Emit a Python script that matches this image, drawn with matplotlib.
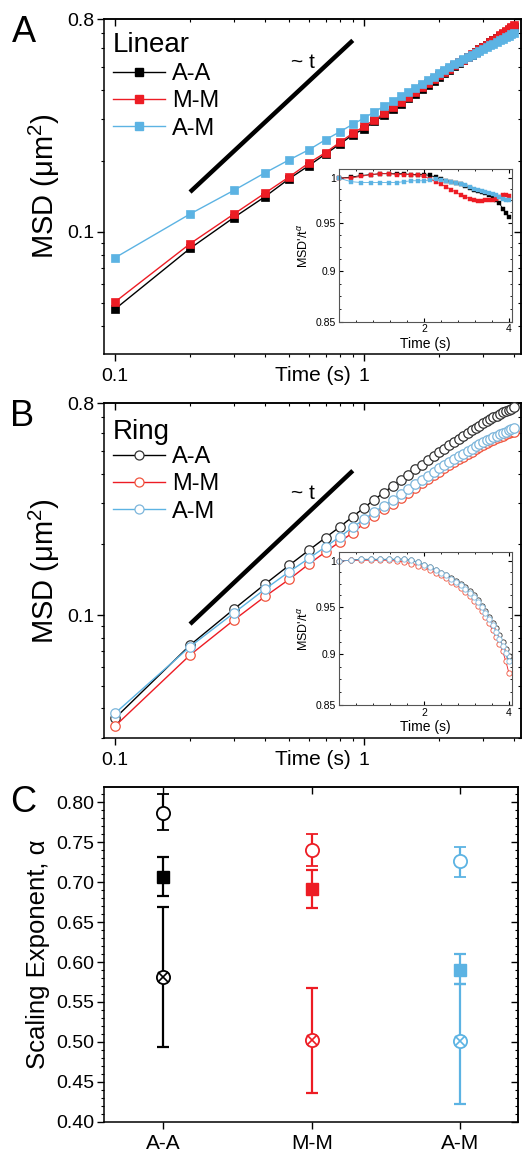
import matplotlib
matplotlib.use("Agg")
import matplotlib.pyplot as plt
from matplotlib.ticker import FixedLocator, NullFormatter, FixedFormatter
from matplotlib.lines import Line2D

plt.rcParams['font.family'] = ['Liberation Sans', 'DejaVu Sans']
plt.rcParams['mathtext.fontset'] = 'custom'
plt.rcParams['mathtext.rm'] = 'Liberation Sans'
plt.rcParams['mathtext.it'] = 'Liberation Sans:italic'
plt.rcParams['axes.linewidth'] = 1.1

# ---------------- data ----------------
time_s = [0.1, 0.2, 0.3, 0.4, 0.5, 0.6, 0.7, 0.8, 0.9, 1.0,
          1.1, 1.2, 1.3, 1.4, 1.5, 1.6, 1.7, 1.8, 1.9, 2.0,
          2.1, 2.2, 2.3, 2.4, 2.5, 2.6, 2.7, 2.8, 2.9, 3.0,
          3.1, 3.2, 3.3, 3.4, 3.5, 3.6, 3.7, 3.8, 3.9, 4.0]
series_names = ["A-A", "M-M", "A-M"]

# Panel A (Linear) MSD
lin_AA = [0.047, 0.085, 0.115, 0.141, 0.168, 0.191, 0.214, 0.236, 0.258, 0.274,
          0.294, 0.313, 0.332, 0.350, 0.368, 0.386, 0.404, 0.421, 0.438, 0.455,
          0.471, 0.487, 0.503, 0.519, 0.535, 0.550, 0.565, 0.579, 0.594, 0.608,
          0.622, 0.636, 0.650, 0.663, 0.677, 0.691, 0.704, 0.717, 0.730, 0.743]
lin_MM = [0.0504, 0.089, 0.119, 0.146, 0.171, 0.196, 0.217, 0.240, 0.262, 0.280,
          0.299, 0.318, 0.337, 0.355, 0.374, 0.392, 0.410, 0.427, 0.444, 0.461,
          0.477, 0.493, 0.508, 0.523, 0.538, 0.552, 0.566, 0.580, 0.594, 0.608,
          0.622, 0.637, 0.651, 0.666, 0.681, 0.696, 0.711, 0.726, 0.741, 0.755]
lin_AM = [0.0776, 0.119, 0.150, 0.178, 0.202, 0.223, 0.246, 0.266, 0.286, 0.304,
          0.323, 0.341, 0.359, 0.376, 0.392, 0.409, 0.425, 0.440, 0.455, 0.471,
          0.485, 0.500, 0.514, 0.528, 0.541, 0.553, 0.564, 0.575, 0.586, 0.597,
          0.608, 0.618, 0.628, 0.639, 0.649, 0.659, 0.669, 0.678, 0.688, 0.697]

# Panel B (Ring) MSD
ring_AA = [0.0363, 0.0744, 0.106, 0.1355, 0.163, 0.189, 0.214, 0.238, 0.263, 0.287,
           0.311, 0.333, 0.355, 0.376, 0.397, 0.418, 0.438, 0.458, 0.476, 0.495,
           0.512, 0.530, 0.547, 0.564, 0.581, 0.597, 0.613, 0.628, 0.643, 0.657,
           0.671, 0.683, 0.696, 0.708, 0.719, 0.731, 0.741, 0.751, 0.760, 0.769]
ring_MM = [0.0336, 0.0675, 0.0952, 0.120, 0.142, 0.165, 0.186, 0.2055, 0.2245, 0.246,
           0.264, 0.282, 0.299, 0.316, 0.332, 0.348, 0.364, 0.379, 0.394, 0.408,
           0.422, 0.435, 0.448, 0.461, 0.474, 0.486, 0.498, 0.509, 0.520, 0.530,
           0.540, 0.550, 0.559, 0.567, 0.575, 0.583, 0.590, 0.597, 0.601, 0.605]
ring_AM = [0.0381, 0.0733, 0.102, 0.129, 0.153, 0.1745, 0.1955, 0.216, 0.2367, 0.256,
           0.275, 0.293, 0.310, 0.327, 0.344, 0.361, 0.377, 0.393, 0.408, 0.422,
           0.436, 0.449, 0.463, 0.476, 0.488, 0.501, 0.512, 0.524, 0.535, 0.546,
           0.556, 0.565, 0.574, 0.583, 0.591, 0.599, 0.606, 0.613, 0.620, 0.625]

# Insets: MSD'/t^alpha for t = 1.0 ... 4.0
inset_time = time_s[9:]
insA_AA = [1.000, 1.001, 1.003, 1.004, 1.005, 1.005, 1.005, 1.005, 1.004, 1.004,
           1.004, 1.003, 1.001, 0.999, 0.997, 0.996, 0.994, 0.993, 0.991, 0.989,
           0.987, 0.986, 0.984, 0.983, 0.981, 0.979, 0.976, 0.972, 0.966, 0.961, 0.957]
insA_MM = [1.000, 1.000, 1.002, 1.004, 1.005, 1.005, 1.004, 1.004, 1.004, 1.003,
           1.002, 0.999, 0.996, 0.993, 0.990, 0.987, 0.984, 0.981, 0.979, 0.977,
           0.975, 0.974, 0.974, 0.975, 0.976, 0.976, 0.977, 0.979, 0.981, 0.981, 0.980]
insA_AM = [1.000, 0.996, 0.995, 0.995, 0.995, 0.995, 0.995, 0.996, 0.997, 0.997,
           0.997, 0.998, 0.999, 0.998, 0.997, 0.996, 0.994, 0.993, 0.992, 0.990,
           0.988, 0.987, 0.986, 0.984, 0.983, 0.982, 0.981, 0.979, 0.977, 0.976, 0.976]
insB_AA = [1.000, 1.001, 1.002, 1.002, 1.002, 1.002, 1.002, 1.002, 1.001, 0.999,
           0.996, 0.993, 0.990, 0.987, 0.984, 0.981, 0.978, 0.975, 0.971, 0.967,
           0.962, 0.957, 0.951, 0.945, 0.939, 0.933, 0.927, 0.920, 0.913, 0.906, 0.898]
insB_MM = [1.000, 1.001, 1.001, 1.001, 1.001, 1.001, 1.000, 0.999, 0.997, 0.995,
           0.993, 0.990, 0.987, 0.984, 0.981, 0.977, 0.974, 0.970, 0.966, 0.961,
           0.956, 0.951, 0.945, 0.939, 0.932, 0.925, 0.918, 0.911, 0.903, 0.893, 0.881]
insB_AM = [1.000, 1.001, 1.002, 1.002, 1.002, 1.002, 1.002, 1.002, 1.001, 0.999,
           0.996, 0.993, 0.990, 0.987, 0.984, 0.980, 0.977, 0.973, 0.969, 0.965,
           0.960, 0.955, 0.949, 0.943, 0.937, 0.930, 0.923, 0.916, 0.909, 0.901, 0.893]

# Guide line "~ t"
guide_t = [0.2, 0.9]
guideA = [0.1475, 0.649]
guideB = [0.0915, 0.4126]

# Panel C: scaling exponents (value, lower error, upper error)
groups = ["A-A", "M-M", "A-M"]
ring_alpha = [0.787, 0.740, 0.726]
ring_lo = [0.022, 0.020, 0.020]
ring_hi = [0.023, 0.020, 0.018]
lin_alpha = [0.706, 0.691, 0.590]
lin_lo = [0.023, 0.023, 0.018]
lin_hi = [0.025, 0.024, 0.020]
cross_alpha = [0.581, 0.502, 0.501]
cross_lo = [0.088, 0.066, 0.079]
cross_hi = [0.088, 0.065, 0.071]

BLACK = '#000000'
RED = '#ED1C24'
BLUE = '#5CB3E3'
colors = [BLACK, RED, BLUE]

fig = plt.figure(figsize=(5.25, 11.51), dpi=100)


def add_mirror(ax, xmajor=None, ymajor=None):
    sx = ax.secondary_xaxis('top', functions=(lambda v: v, lambda v: v))
    sy = ax.secondary_yaxis('right', functions=(lambda v: v, lambda v: v))
    if xmajor is not None:
        sx.set_xticks(xmajor)
    if ymajor is not None:
        sy.set_yticks(ymajor)
    for s, axis in ((sx, sx.xaxis), (sy, sy.yaxis)):
        axis.set_major_formatter(NullFormatter())
        axis.set_minor_formatter(NullFormatter())
        s.tick_params(which='major', direction='in', length=5, width=1.0)
        s.tick_params(which='minor', direction='in', length=2.5, width=0.8)
    return sx, sy


def style_msd_axes(ax, ymin):
    ax.set_xscale('log')
    ax.set_yscale('log')
    ax.set_xlim(0.0903, 4.26)
    ax.set_ylim(ymin, 0.8)
    ax.xaxis.set_major_locator(FixedLocator([0.1, 1]))
    ax.xaxis.set_major_formatter(FixedFormatter(['0.1', '1']))
    ax.yaxis.set_major_locator(FixedLocator([0.1, 0.8]))
    ax.yaxis.set_major_formatter(FixedFormatter(['0.1', '0.8']))
    ax.xaxis.set_minor_formatter(NullFormatter())
    ax.yaxis.set_minor_formatter(NullFormatter())
    ax.tick_params(which='major', direction='out', length=5, width=1.0, labelsize=14, pad=2)
    ax.tick_params(which='minor', direction='out', length=2.5, width=0.8)
    ax.tick_params(axis='x', which='major', pad=5)
    add_mirror(ax, xmajor=[0.1, 1], ymajor=[0.1, 0.8])
    ax.set_xlabel('Time (s)', fontsize=15)
    ax.xaxis.set_label_coords(0.5, -0.035)
    ax.set_ylabel('MSD (μm$^2$)', fontsize=21)
    ax.yaxis.set_label_coords(-0.1, 0.5)


def style_inset(ax, ylabel):
    ax.set_xscale('log')
    ax.set_yscale('log')
    ax.set_xlim(1.0, 4.1)
    ax.set_ylim(0.85, 1.01)
    ax.xaxis.set_major_locator(FixedLocator([2, 4]))
    ax.xaxis.set_major_formatter(FixedFormatter(['2', '4']))
    ax.xaxis.set_minor_locator(FixedLocator([1.149, 1.320, 1.516, 1.741, 2.297, 2.639, 3.031, 3.482]))
    ax.xaxis.set_minor_formatter(NullFormatter())
    ax.yaxis.set_major_locator(FixedLocator([0.85, 0.9, 0.95, 1.0]))
    ax.yaxis.set_major_formatter(FixedFormatter(['0.85', '0.9', '0.95', '1']))
    ax.yaxis.set_minor_locator(FixedLocator([0.8625, 0.875, 0.8875, 0.9125, 0.925, 0.9375,
                                             0.9625, 0.975, 0.9875]))
    ax.yaxis.set_minor_formatter(NullFormatter())
    ax.tick_params(which='both', direction='in', top=True, right=True, labelsize=7.5, pad=2)
    ax.tick_params(which='major', length=3, width=0.8)
    ax.tick_params(which='minor', length=1.6, width=0.6)
    for sp in ax.spines.values():
        sp.set_linewidth(0.8)
        sp.set_color('#555555')
    ax.set_xlabel('Time (s)', fontsize=10)
    ax.xaxis.set_label_coords(0.5, -0.1)
    ax.set_ylabel(ylabel, fontsize=9)
    ax.yaxis.set_label_coords(-0.16, 0.5)


# ---------------- Panel A ----------------
axA = fig.add_axes([104 / 525, 1 - 354 / 1151, 417 / 525, 335 / 1151])
for vals, c in zip([lin_AA, lin_MM, lin_AM], colors):
    axA.plot(time_s, vals, color=c, lw=1.0, marker='s', ms=5.8, mfc=c, mec=c, mew=0.5,
             clip_on=False, zorder=3)
axA.plot(guide_t, guideA, color='k', lw=3.2, solid_capstyle='butt')
axA.text(0.569, 0.522, '~ t', fontsize=15, ha='center', va='center')
style_msd_axes(axA, 0.0303)
axA.text(0.0216, 0.922, 'Linear', transform=axA.transAxes, fontsize=20, ha='left', va='center')
hA = [Line2D([], [], color=c, lw=1.0, marker='s', ms=5.5, mfc=c, mec=c) for c in colors]
axA.legend(hA, series_names, loc='upper left', bbox_to_anchor=(0.0216, 0.868), frameon=False,
           borderpad=0, borderaxespad=0, handlelength=2.2, handletextpad=0.3,
           labelspacing=0.22, fontsize=17, numpoints=1)

insA = fig.add_axes([339 / 525, 1 - 321.7 / 1151, 173 / 525, 152.4 / 1151])
for vals, c in zip([insA_AA, insA_MM, insA_AM], colors):
    insA.plot(inset_time, vals, color=c, lw=0.6, marker='s', ms=3.0, mfc=c, mec=c, mew=0.3,
              clip_on=False)
style_inset(insA, "MSD'/t$^{\\alpha}$")

# ---------------- Panel B ----------------
axB = fig.add_axes([104 / 525, 1 - 738.3 / 1151, 417 / 525, 335 / 1151])
ring_edge = ['#333333', '#F0553F', '#7DB6DB']
for vals, c, e in zip([ring_AA, ring_MM, ring_AM], colors, ring_edge):
    axB.plot(time_s, vals, color=c, lw=1.0, marker='o', ms=6.8, mfc='white', mec=e, mew=0.9,
             clip_on=False, zorder=3)
axB.plot(guide_t, guideB, color='k', lw=3.2, solid_capstyle='butt')
axB.text(0.569, 0.3305, '~ t', fontsize=15, ha='center', va='center')
style_msd_axes(axB, 0.0298)
axB.text(0.0216, 0.915, 'Ring', transform=axB.transAxes, fontsize=20, ha='left', va='center')
hB = [Line2D([], [], color=c, lw=1.0, marker='o', ms=6.5, mfc='white', mec=e, mew=0.9)
      for c, e in zip(colors, ring_edge)]
axB.legend(hB, series_names, loc='upper left', bbox_to_anchor=(0.0216, 0.872), frameon=False,
           borderpad=0, borderaxespad=0, handlelength=2.2, handletextpad=0.3,
           labelspacing=0.22, fontsize=17, numpoints=1)

insB = fig.add_axes([339 / 525, 1 - 705 / 1151, 173 / 525, 152.7 / 1151])
for vals, c, e in zip([insB_AA, insB_MM, insB_AM], colors, ring_edge):
    insB.plot(inset_time, vals, color=c, lw=0.6, marker='o', ms=3.8, mfc='white', mec=e, mew=0.6,
              clip_on=False)
style_inset(insB, "MSD'/t$^{\\alpha}$")

# ---------------- Panel C ----------------
axC = fig.add_axes([104 / 525, 1 - 1121.7 / 1151, 414 / 525, 335 / 1151])
xpos = [1, 2, 3]
for i in range(3):
    c = colors[i]
    # crossed circles
    axC.errorbar(xpos[i], cross_alpha[i], yerr=[[cross_lo[i]], [cross_hi[i]]], fmt='none',
                 ecolor=c, elinewidth=1.6, capsize=4.6, capthick=1.6, zorder=2)
    axC.plot(xpos[i], cross_alpha[i], marker='o', ms=9.5, mfc='white', mec=c, mew=1.3, zorder=4)
    axC.plot(xpos[i], cross_alpha[i], marker='x', ms=6.6, mec=c, mew=1.2, zorder=5)
    # linear (filled squares)
    axC.errorbar(xpos[i], lin_alpha[i], yerr=[[lin_lo[i]], [lin_hi[i]]], fmt='s', ms=9.0,
                 color=c, mfc=c, mec=c, ecolor=c, elinewidth=1.6, capsize=4.6, capthick=1.6,
                 zorder=4)
    # ring (open circles)
    axC.errorbar(xpos[i], ring_alpha[i], yerr=[[ring_lo[i]], [ring_hi[i]]], fmt='o', ms=9.5,
                 color=c, mfc='white', mec=c, mew=1.3, ecolor=c, elinewidth=1.6, capsize=4.6,
                 capthick=1.6, zorder=4)
axC.set_xlim(0.6, 3.39)
axC.set_ylim(0.40, 0.8196)
axC.set_xticks(xpos)
axC.set_xticklabels(groups)
yt = [0.40, 0.45, 0.50, 0.55, 0.60, 0.65, 0.70, 0.75, 0.80]
axC.set_yticks(yt)
axC.set_yticklabels(['%.2f' % v for v in yt])
ymin_ticks = [0.40 + 0.01 * k for k in range(42) if k % 5 != 0]
axC.yaxis.set_minor_locator(FixedLocator(ymin_ticks))
axC.tick_params(which='major', direction='out', length=5, width=1.0, labelsize=14, pad=2)
axC.tick_params(axis='x', labelsize=15, pad=4)
axC.tick_params(which='minor', direction='out', length=2.5, width=0.8)
sxC = axC.secondary_xaxis('top')
sxC.set_xticks(xpos)
sxC.xaxis.set_major_formatter(NullFormatter())
sxC.tick_params(direction='in', length=5, width=1.0)
syC = axC.secondary_yaxis('right')
syC.set_yticks(yt)
syC.yaxis.set_minor_locator(FixedLocator(ymin_ticks))
syC.yaxis.set_major_formatter(NullFormatter())
syC.tick_params(which='major', direction='in', length=5, width=1.0)
syC.tick_params(which='minor', direction='in', length=2.5, width=0.8)
axC.set_ylabel('Scaling Exponent, α', fontsize=18.5)
axC.yaxis.set_label_coords(-0.13, 0.5)

# panel letters
fig.text(12 / 525, 1 - 32 / 1151, 'A', fontsize=26, ha='left', va='center')
fig.text(10 / 525, 1 - 416 / 1151, 'B', fontsize=26, ha='left', va='center')
fig.text(10 / 525, 1 - 803 / 1151, 'C', fontsize=26, ha='left', va='center')

fig.savefig('out.png', dpi=100)
